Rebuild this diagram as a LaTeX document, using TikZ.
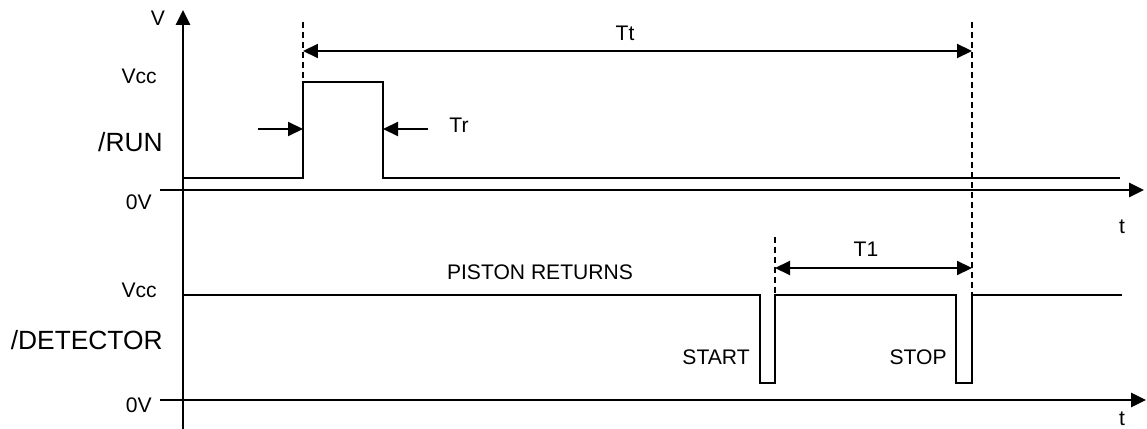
\documentclass[tikz,border=0pt]{standalone}
\usepackage{fontspec}
\setmainfont{Liberation Sans}
\usetikzlibrary{arrows.meta}
\tikzset{
  axis/.style={line width=1.5pt,-{Triangle[length=3mm,width=2.8mm]}},
  wave/.style={line width=0.9pt},
  guide/.style={line width=0.8pt,dash pattern=on 1.2mm off 0.8mm},
  span/.style={line width=1.2pt,{Triangle[length=3mm,width=2.8mm]}-{Triangle[length=3mm,width=2.8mm]}},
  pointer/.style={line width=1.2pt,-{Triangle[length=3mm,width=2.8mm]}},
  lbl/.style={font=\fontsize{12}{14}\selectfont,inner sep=0pt},
  siglbl/.style={font=\fontsize{15}{18}\selectfont,inner sep=0pt,anchor=east}
}

\begin{document}
\begin{tikzpicture}[x=0.02cm,y=-0.02cm]
\useasboundingbox (0,0) rectangle (1147,429);
% axes
\coordinate (vbot) at (183,429);
\coordinate (vtop) at (183,10);
\coordinate (runL) at (160,190);
\coordinate (runR) at (1144,190);
\coordinate (detL) at (160,400);
\coordinate (detR) at (1146,400);
\draw[axis] (vbot) -- (vtop);
\draw[axis] (runL) -- (runR);
\draw[axis] (detL) -- (detR);
\node[lbl] (vlab) at (158,18) {V};
\node[lbl] (trun) at (1122,227) {t};
\node[lbl] (tdet) at (1122,419) {t};
\foreach \y/\n in {76/run,290/det}{\node[lbl,anchor=east] (vcc\n) at (157,\y) {Vcc};}
\foreach \y/\n in {202/run,405/det}{\node[lbl,anchor=east] (zero\n) at (152,\y) {0V};}
\node[siglbl] (runname) at (163,142) {/RUN};
\node[siglbl] (detname) at (163,340) {/DETECTOR};

% /RUN pulse
\coordinate (rise) at (303,82);
\coordinate (fall) at (383,82);
\draw[wave] (183,178) -- (303,178) -- (rise) -- (fall) -- (383,178) -- (1120,178);
\coordinate (trin) at (258,129);
\coordinate (trout) at (428,129);
\draw[pointer] (trin) -- (rise |- trin);
\draw[pointer] (trout) -- (fall |- trout);
\node[lbl] (trlab) at (459,125) {Tr};

% /DETECTOR pulses
\coordinate (start) at (775,295);
\coordinate (stop) at (972,295);
\draw[wave] (183,295) -- (760,295) -- (760,383) -- (775,383) -- (start) -- (956,295) -- (956,383) -- (972,383) -- (stop) -- (1122,295);
\node[lbl] (piston) at (540,272) {PISTON RETURNS};
\node[lbl,anchor=east] (startlab) at (750,357) {START};
\node[lbl,anchor=east] (stoplab) at (947,357) {STOP};

% markers and spans
\coordinate (g1) at (303,22);
\coordinate (g2) at (972,22);
\coordinate (g3) at (775,237);
\draw[guide] (g1) -- (rise);
\draw[guide] (g2) -- (stop);
\draw[guide] (g3) -- (start);
\draw[span] (303,51) -- (972,51);
\node[lbl] (ttlab) at (625,33) {Tt};
\draw[span] (775,268) -- (972,268);
\node[lbl] (t1lab) at (866,249) {T1};
\end{tikzpicture}
\end{document}
